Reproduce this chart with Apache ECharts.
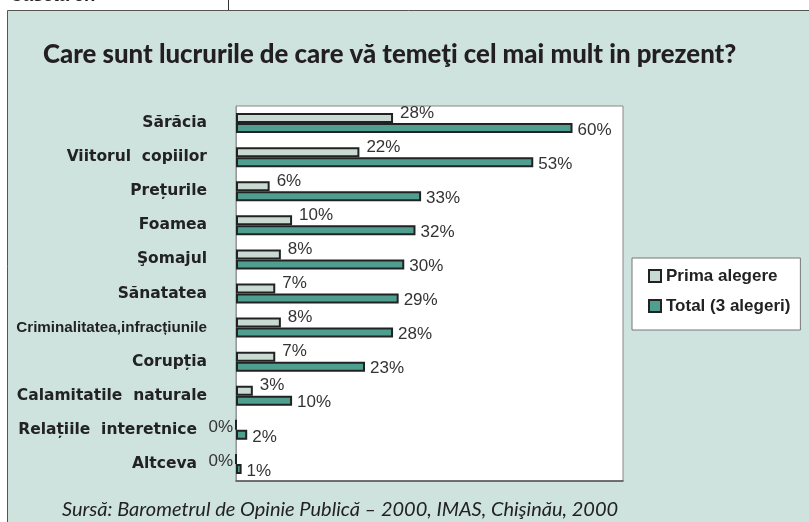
<!DOCTYPE html>
<html>
<head>
<meta charset="utf-8">
<script src="https://cdn.jsdelivr.net/npm/echarts@6/dist/echarts.min.js"></script>
<style>
html,body{margin:0;padding:0;background:#fff;}
#c{width:809px;height:522px;}
</style>
</head>
<body>
<div id="c"></div>
<script>
const categories = ['Sărăcia','Viitorul  copiilor','Prețurile','Foamea','Şomajul','Sănatatea','Criminalitatea,infracțiunile','Corupția','Calamitatile  naturale','Relațiile  interetnice','Altceva'];
const primaValues = [28,22,6,10,8,7,8,7,3,0,0];
const totalValues = [60,53,33,32,30,29,28,23,10,2,1];
const seriesNames = ['Prima alegere','Total (3 alegeri)'];
const titleText = 'Care sunt lucrurile de care vă temeţi cel mai mult in prezent?';
const sourceText = 'Sursă: Barometrul de Opinie Publică – 2000, IMAS, Chişinău, 2000';
const boxLabel = 'Caseta 5.7';

const chart = echarts.init(document.getElementById('c'), null, {renderer:'canvas'});

const labelFont = {fontFamily:'Liberation Sans', fontSize:17, color:'#333'};

const primaData = primaValues.map(v => v === 0 ? {
  value: v,
  label: {position:'left', distance:2, offset:[0,2]}
} : v);

const option = {
  animation:false,
  backgroundColor:'#fff',
  graphic:[
    {type:'rect', shape:{x:7.5,y:10.5,width:820,height:530}, style:{fill:'#cee3de', stroke:'#555', lineWidth:1}, z:-10},
    {type:'line', shape:{x1:228.5,y1:0,x2:228.5,y2:10}, style:{stroke:'#333', lineWidth:1}, z:-10},
    {type:'text', x:10, y:5, style:{text:boxLabel, font:'bold 18px "Liberation Sans"', fill:'#222', textVerticalAlign:'bottom'}, z:-9},
    {type:'text', x:43, y:55, style:{text:titleText, font:'900 25.8px Lato', fill:'#231f20', textVerticalAlign:'middle'}},
    {type:'text', x:62, y:510, style:{text:sourceText, font:'italic 20px Lato', fill:'#222', textVerticalAlign:'middle'}}
  ],
  legend:{
    data:seriesNames,
    orient:'vertical',
    left:632, top:258,
    padding:[8,10,14,16],
    itemGap:10,
    itemWidth:12, itemHeight:12,
    itemTextGap:8,
    backgroundColor:'#fff',
    borderColor:'#777', borderWidth:1,
    textStyle:{fontFamily:'Liberation Sans', fontWeight:'bold', fontSize:17, color:'#222', lineHeight:20},
    icon:'rect'
  },
  grid:{left:236, right:186, top:106, bottom:41, show:true, backgroundColor:'#fff', borderColor:'#888', borderWidth:1},
  xAxis:{
    type:'value', min:0, max:69,
    axisLabel:{show:false}, splitLine:{show:false}, axisTick:{show:false},
    axisLine:{show:true, lineStyle:{color:'#555', width:1.5}}
  },
  yAxis:{
    type:'category', inverse:true, data:categories,
    axisTick:{show:false},
    axisLine:{show:true, lineStyle:{color:'#999', width:1}},
    axisLabel:{
      margin:29,
      formatter:(v, i) => {
        const shifted = primaValues[i] === 0;
        const cond = v.length > 24;
        const key = cond ? 'c' : (shifted ? 'z' : 'a');
        return '{' + key + '|' + v + '}';
      },
      rich:{
        a:{fontFamily:'DejaVu Sans', fontWeight:'bold', fontSize:15.5, color:'#222'},
        z:{fontFamily:'DejaVu Sans', fontWeight:'bold', fontSize:15.5, color:'#222', padding:[0,10,0,0]},
        c:{fontFamily:'Liberation Sans', fontWeight:'bold', fontSize:15.2, color:'#222'}
      }
    }
  },
  series:[
    {
      name:seriesNames[0], type:'bar', data:primaData,
      barWidth:10, barGap:'0%',
      itemStyle:{color:'#c8dad2', borderColor:'#222', borderWidth:2},
      label:Object.assign({show:true, position:'right', distance:7, offset:[0,-5], formatter:'{c}%'}, labelFont)
    },
    {
      name:seriesNames[1], type:'bar', data:totalValues,
      barWidth:10, barGap:'0%',
      itemStyle:{color:'#4f9f91', borderColor:'#222', borderWidth:2},
      label:Object.assign({show:true, position:'right', distance:5, offset:[0,2], formatter:'{c}%'}, labelFont)
    }
  ]
};
chart.setOption(option);
</script>
</body>
</html>
